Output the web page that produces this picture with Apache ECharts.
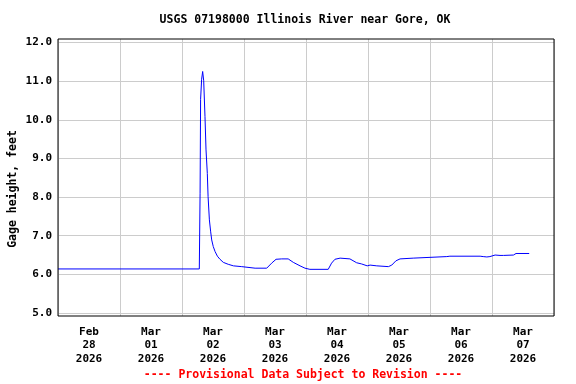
<!DOCTYPE html>
<html>
<head>
<meta charset="utf-8">
<script src="https://cdn.jsdelivr.net/npm/echarts@6/dist/echarts.min.js"></script>
<style>
html,body{margin:0;padding:0;background:#fff;}
#chart{width:576px;height:384px;}
</style>
</head>
<body>
<div id="chart"></div>
<script>
// Day labels (centered at noon of each day)
const dayLabels = ["Feb\n28\n2026","Mar\n01\n2026","Mar\n02\n2026","Mar\n03\n2026","Mar\n04\n2026","Mar\n05\n2026","Mar\n06\n2026","Mar\n07\n2026"];
// Hours since Feb 28 00:00
const hours = [0,54.7,55.0,55.2,55.6,56.0,56.2,56.4,56.9,57.3,57.8,58.1,58.6,59.1,59.5,60.1,60.8,61.7,62.7,64.0,65.9,67.9,71.1,76.3,80.8,82.7,84.4,86.6,89.1,91.1,93.7,95.6,97.5,104.6,105.9,107.2,109.2,113.0,115.6,117.5,119.7,120.8,123.4,127.9,129.2,130.8,132.4,137.5,138.2,150.5,151.7,163.4,164.6,165.3,166.0,167.2,169.2,171.1,171.7,172.4,176.3,177.3,182.4];
// Gage height, feet
const gage = [6.14,6.14,8.10,10.53,11.05,11.25,11.25,11.01,10.08,9.22,8.61,8.01,7.41,7.10,6.89,6.72,6.59,6.47,6.39,6.31,6.26,6.22,6.20,6.16,6.16,6.29,6.39,6.40,6.40,6.31,6.22,6.16,6.13,6.13,6.29,6.39,6.42,6.40,6.30,6.27,6.22,6.24,6.22,6.20,6.24,6.35,6.40,6.42,6.44,6.46,6.47,6.47,6.46,6.47,6.45,6.46,6.50,6.49,6.47,6.49,6.50,6.54,6.54];
const yMin = 5, yMax = 12, yStep = 1;
const titleText = "USGS 07198000 Illinois River near Gore, OK";
const yTitle = "Gage height, feet";
const footer = "---- Provisional Data Subject to Revision ----";

const FONT = '"DejaVu Sans Mono", "Liberation Mono", monospace';
const chart = echarts.init(document.getElementById('chart'), null, {renderer:'canvas'});
const data = hours.map((h,i)=>[h,gage[i]]);
chart.setOption({
  animation:false,
  backgroundColor:'#ffffff',
  grid:[
    {left:58, top:39, width:496, height:277, show:true, borderColor:'#000', borderWidth:1, backgroundColor:'transparent', z:5},
    {left:58, top:42.5, width:496, height:270.5, show:false}
  ],
  xAxis:[
    {type:'category', gridIndex:0, data:dayLabels, boundaryGap:true,
     axisLine:{show:false}, axisTick:{show:false},
     splitLine:{show:true, lineStyle:{color:'#cccccc', width:1}},
     axisLabel:{color:'#000', fontFamily:FONT, fontWeight:'bold', fontSize:11, lineHeight:13.5, margin:9, interval:0}},
    {type:'value', gridIndex:1, min:0, max:192, show:false, splitLine:{show:false}}
  ],
  yAxis:[
    {type:'value', gridIndex:0, min:0, max:1, show:false, splitLine:{show:false}},
    {type:'value', gridIndex:1, min:yMin, max:yMax, interval:yStep,
     axisLine:{show:false}, axisTick:{show:false},
     splitLine:{show:true, lineStyle:{color:'#cccccc', width:1}},
     axisLabel:{color:'#000', fontFamily:FONT, fontWeight:'bold', fontSize:11, margin:6, formatter:v=>v.toFixed(1)}}
  ],
  series:[{
    type:'line', xAxisIndex:1, yAxisIndex:1, data:data, showSymbol:false, symbol:'none',
    lineStyle:{color:'#0000ff', width:1}, z:3
  }],
  graphic:[
    {type:'text', x:305, y:20, style:{text:titleText, fill:'#000', font:'bold 11.5px '+FONT, textAlign:'center', textVerticalAlign:'middle'}},
    {type:'text', x:13, y:189, rotation:Math.PI/2, style:{text:yTitle, fill:'#000', font:'bold 11.5px '+FONT, textAlign:'center', textVerticalAlign:'middle'}},
    {type:'text', x:303, y:375, style:{text:footer, fill:'#ff0000', font:'bold 11.5px '+FONT, textAlign:'center', textVerticalAlign:'middle'}}
  ]
});
</script>
</body>
</html>
